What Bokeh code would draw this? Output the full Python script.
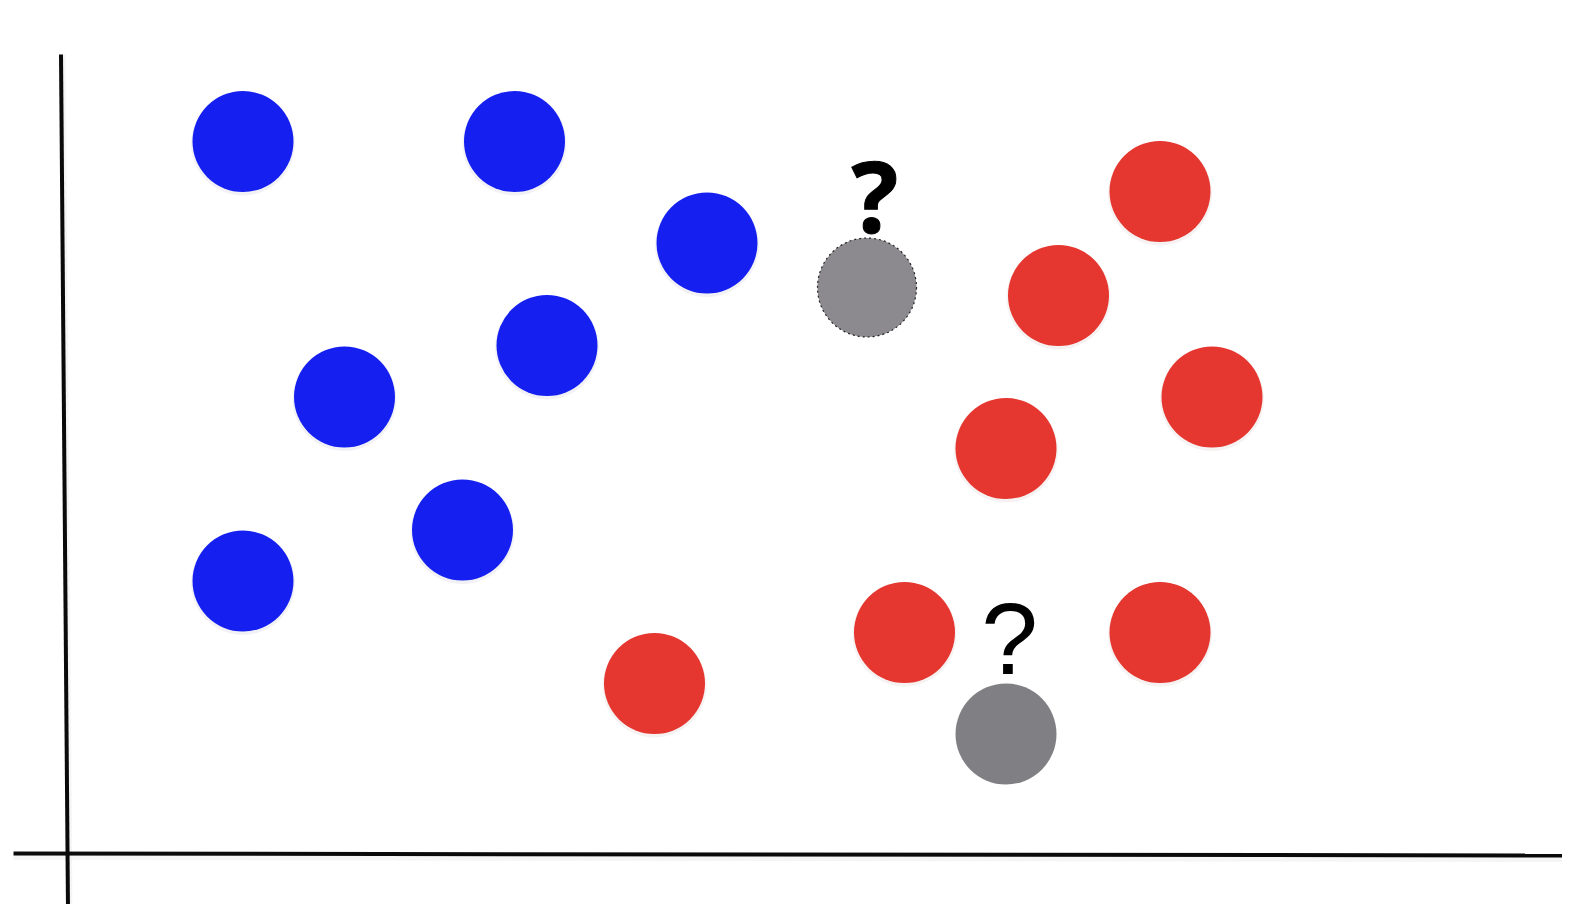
from bokeh.plotting import figure
from bokeh.models import Range1d
from bokeh.core.properties import value
from bokeh.embed import file_html
from bokeh.resources import INLINE

# Data (positions in the picture's own units: x to the right, y downward)
blue_x = [242.5, 514, 706.5, 546.5, 344, 462, 242.5]
blue_y = [141, 141, 242.5, 345, 396.5, 529.5, 580.5]
red_x = [1159.5, 1058, 1211.5, 1005.5, 904, 1159.5, 654]
red_y = [191, 295, 396.5, 448, 632, 632, 683]
query_x = [866.5, 1005.5]
query_y = [287, 733.5]
axis_v_x = [60.5, 67.5]
axis_v_y = [54, 910]
axis_h_x = [13, 1562]
axis_h_y = [853, 855]

p = figure(width=1562, height=904, output_backend="svg", toolbar_location=None,
           x_range=Range1d(0, 1562), y_range=Range1d(904, 0), min_border=0)
p.axis.visible = False
p.grid.visible = False
p.outline_line_color = None
p.background_fill_color = "white"
p.border_fill_color = "white"

# hand-drawn axes (with a soft shadow)
p.line([v + 2 for v in axis_v_x], axis_v_y, line_color="#ececec", line_width=5, line_alpha=0.5)
p.line(axis_h_x, [v + 4 for v in axis_h_y], line_color="#ececec", line_width=5, line_alpha=0.5)
p.line(axis_v_x, axis_v_y, line_color="#0a0a0a", line_width=4)
p.line(axis_h_x, axis_h_y, line_color="#0a0a0a", line_width=4)

R = 50.5
# soft shadows
p.circle(blue_x, [v + 2 for v in blue_y], radius=R + 1.5, radius_units="screen",
         fill_color="#d4d4e0", fill_alpha=0.3, line_color=None)
p.circle(red_x, [v + 2 for v in red_y], radius=R + 1.5, radius_units="screen",
         fill_color="#e0d4d4", fill_alpha=0.3, line_color=None)

p.circle(blue_x, blue_y, radius=R, radius_units="screen",
         fill_color="#1520f0", line_color=None)
p.circle(red_x, red_y, radius=R, radius_units="screen",
         fill_color="#e5362f", line_color=None)

# unknown points
p.circle([query_x[0]], [query_y[0]], radius=R - 1, radius_units="screen",
         fill_color="#8c8a8e", line_color="#222222", line_width=1.2, line_dash="2 3")
p.circle([query_x[1]], [query_y[1]], radius=R, radius_units="screen",
         fill_color="#807f83", line_color=None)

p.text([query_x[0] + 8], [query_y[0] - 93], text=["?"], text_font=value("Open Sans"),
       text_font_style="bold", text_font_size="98px", text_align="center",
       text_baseline="alphabetic", text_color="black", text_outline_color="black")
p.text([query_x[1] + 3.5], [query_y[1] - 95], text=["?"], text_font=value("Liberation Sans"),
       text_font_size="102px", text_align="center",
       text_baseline="alphabetic", text_color="black")

open("out.html", "w").write(file_html(p, INLINE))
